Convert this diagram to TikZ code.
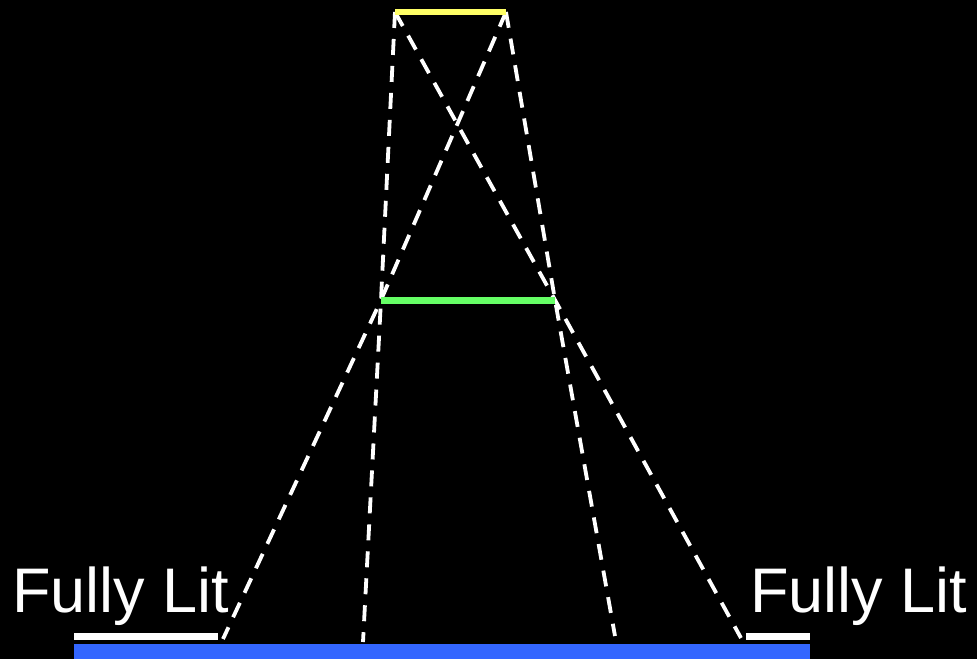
\documentclass[tikz,border=0pt]{standalone}
\usepackage{fontspec}
\setmainfont{Liberation Sans}
\definecolor{ylw}{RGB}{255,255,102}
\definecolor{grn}{RGB}{102,255,102}
\definecolor{blu}{RGB}{51,102,255}
\begin{document}
\begin{tikzpicture}[x=1pt,y=-1pt,
  ray/.style={white,line width=3.8pt,dash pattern=on 16pt off 11pt},
  lbl/.style={text=white,font=\fontsize{63}{63}\selectfont,inner sep=0pt,anchor=base west}]
\fill[black] (0,0) rectangle (977,659);
\useasboundingbox (0,0) rectangle (977,659);
% coordinates
\coordinate (yl) at (395,12);
\coordinate (yr) at (506,12);
\coordinate (gl) at (381,300);
\coordinate (gr) at (555,300);
\coordinate (b1) at (363,642);
\coordinate (b2) at (615,636);
\coordinate (b3) at (741,638);
\coordinate (b4) at (223,639);
% rays
\draw[ray] (yl) -- (gl) -- (b1);
\draw[ray] (yr) -- (gr) -- (b2);
\draw[ray] (yl) -- (gr) -- (b3);
\draw[ray] (yr) -- (gl) -- (b4);
% bars
\draw[ylw,line width=6pt] (yl) -- (yr);
\draw[grn,line width=7pt] (gl) -- (gr);
\fill[blu] (74,644) rectangle (810,659);
\fill[white] (74,633) rectangle (218,640);
\fill[white] (746,633) rectangle (810,640);
% labels
\node[lbl] (t1) at (12,612) {Fully Lit};
\node[lbl] (t2) at (750,612) {Fully Lit};
\end{tikzpicture}
\end{document}
